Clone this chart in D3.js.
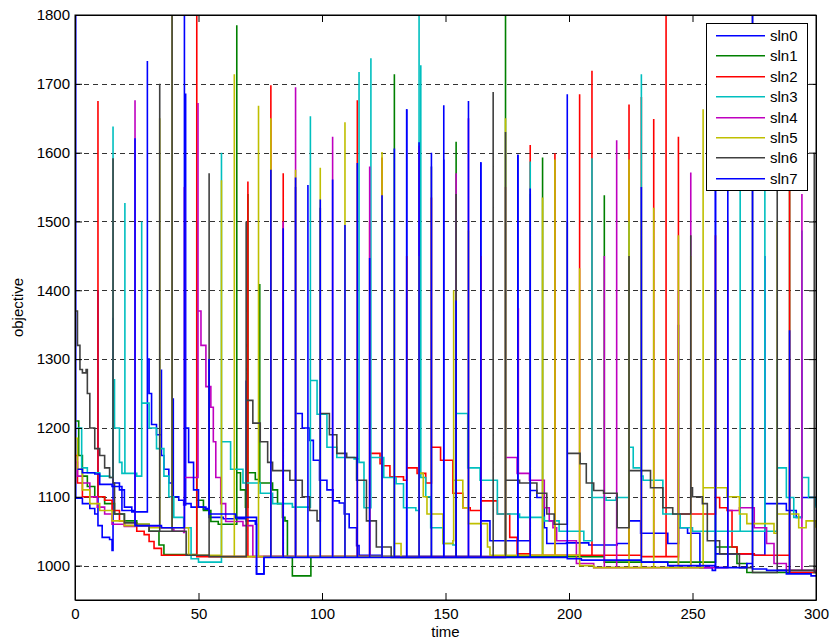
<!DOCTYPE html>
<html>
<head>
<meta charset="utf-8">
<script src="https://cdn.jsdelivr.net/npm/d3@7"></script>
<style>
body { margin: 0; background: #fff; }
text { font-family: Arial, "Liberation Sans", sans-serif; }
</style>
</head>
<body>
<div id="chart"></div>
<script>
// series names and colours
var names = ["sln0", "sln1", "sln2", "sln3", "sln4", "sln5", "sln6", "sln7"];
var colors = ["#0000ff", "#008000", "#ff0000", "#00bfbf", "#bf00bf", "#bfbf00", "#404040", "#0000ff"];

var xTicks = [0, 50, 100, 150, 200, 250, 300];
var yTicks = [1000, 1100, 1200, 1300, 1400, 1500, 1600, 1700, 1800];

// [time, objective]
var sln0 = [
  [0,1800],[0.3,1098],[3,1090],[6,1083],[8,1075],[9.3,1400],[9.3,1058],[11,1041],[14,1038],[15,1022],
  [15.4,1360],[15.4,1120],[18,1110],[20,1085],[23,1078],
  [29.3,1733],[29.3,1300],[30,1250],[31,1205],[33,1190],[35,1285],[35,1160],[36,1140],[38,1120],[39.8,1243],[39.8,1100],[42,1095],[44,1088],
  [44.8,1686],[44.8,1090],[47,1085],[52,1082],
  [54.3,1300],[54.3,1070],[60,1068],[66,1068],[69.3,1269],[69.3,1065],[73,1060],[73.5,988],[76,988],[76.5,1013],
  [84.3,1400],[84.3,1013],[89.3,1550],[89.3,1221],[92,1200],[95,1182],[96.5,1153],[99,1124],[102,1110],[104.5,1094],
  [107,1091],[109,1075],[111,1055],[114,1029],[115,1015],
  [124.3,1510],[124.3,1013],[134.3,1663],[134.3,1013],[149.3,1590],[149.3,1013],
  [164.3,1586],[164.3,1065],[168,1036],[176,1036],[179.3,1597],[179.3,1036],[184.3,1540],[184.3,1109],[187,1099],
  [190,1055],[191,1032],[199,1033],[208,1030],[219.5,1032],
  [224.3,1400],[224.3,1065],[229,1047],[233,1047],[240,1032],[244.3,1350],[244.3,1055],[248,1047],[253,997],[258,993],
  [259.3,1550],[259.3,1017],[264,1017],[275,1015],[279.3,1450],[279.3,1090],[285,1090],[288,1080],[292,1070],
  [294.3,1300],[294.3,1099],[300,1087]
];
var sln1 = [
  [0.5,1210],[1.5,1160],[3,1130],[5,1115],[8,1100],[12,1090],[16,1075],[20,1065],[25,1060],[30,1050],[34,1030],[36,1016],
  [49.3,1500],[49.3,1095],[52,1080],[55,1064],[58,1060],[64,1060],
  [65.5,1785],[65.5,1135],[67,1110],[69,1085],
  [70,1540],[70,1135],[73,1125],[74.8,1409],[74.8,1120],[77,1120],[80,1110],[82,1090],[84,1070],[85,1065],[86,1012],[88,985],[95,985],
  [95.5,1013],[129.3,1714],[129.3,1013],[154.3,1616],[154.3,1013],[174.3,1800],[174.3,1013],[189.3,1593],[189.3,1013],
  [214.3,1538],[214.3,1005],[258,1005],
  [259.3,1400],[259.3,1027],[264,1027],[268,1003],[272,990],[289.3,1560],[289.3,990],[300,990]
];
var sln2 = [
  [0,1160],[1,1120],[3,1100],[9.3,1675],[9.3,1100],[12,1095],[15,1080],[18,1065],[20,1058],[25,1050],[28,1045],[30,1035],[32,1025],[35,1015],
  [49.3,1800],[49.3,1013],[70,1558],[70,1013],[79.3,1698],[79.3,1013],[84.3,1570],[84.3,1013],[114.3,1676],[114.3,1013],
  [119.3,1500],[119.3,1163],[123.5,1148],[124.3,1593],[124.3,1145],[127.5,1129],[133,1124],
  [134.3,1450],[134.3,1142],[138.5,1134],[142,1120],
  [144.3,1535],[144.3,1172],[148,1153],[153,1105],[157,1084],[160,1080],
  [164.3,1450],[164.3,1094],[171,1075],[176,1041],[179,1017],
  [184.3,1611],[184.3,1015],[194.3,1599],[194.3,1015],[204.3,1685],[204.3,1015],[209.3,1719],[209.3,1015],
  [224.3,1670],[224.3,1015],[229.3,1681],[229.3,1013],[234.3,1649],[234.3,1013],[239.3,1800],[239.3,1013],
  [244.3,1623],[244.3,1075],[253,1075],[259.3,1480],[259.3,1099],[261,1084],[264,1080],[266,1027],[268,1017],[275,1015],
  [289.3,1560],[289.3,990],[300,990]
];
var sln3 = [
  [1,1200],[2.7,1142],[5,1135],[10,1130],[14,1128],[15.4,1638],[15.4,1270],[16,1200],[18,1150],[19,1134],
  [20.2,1527],[20.2,1134],[25,1130],
  [27,1500],[27,1236],[30,1200],[33,1170],[36,1130],[38,1100],[40,1070],[44,1055],[47,1010],[50,1005],
  [59.3,1600],[59.3,1180],[63,1140],[68,1120],[75,1105],[80,1090],[88,1085],
  [95.3,1653],[95.3,1269],[98,1220],[102,1172],[106,1157],[113,1155],[115,1717],[115,1150],[117,1084],[119,1084],
  [119.8,1737],[119.8,1157],[125,1128],[130,1119],[133,1084],[138,1080],
  [139.3,1800],[139.3,1128],[140,1727],[140,1128],[142,1100],[144,1055],[149,1032],[153,1030],
  [154.3,1510],[154.3,1221],[159,1142],[164,1124],[171,1075],[180,1070],
  [184.3,1587],[184.3,1070],[190,1065],[196,1050],[204,1050],[206,1036],
  [209.3,1592],[209.3,1099],[215,1095],[219,1099],
  [224.3,1500],[224.3,1172],[226,1142],[229.3,1714],[229.3,1130],[230,1124],[235,1124],[238,1075],[245,1055],[250,1050],[256,1050],
  [269.3,1560],[269.3,1050],[279.3,1560],[279.3,1050],[284.3,1300],[284.3,1142],[288,1099],[291,1070],
  [294.3,1487],[294.3,1128],[297,1099],[300,1084]
];
var sln4 = [
  [0,1150],[1,1130],[3,1120],[6,1100],[9,1085],[12,1075],[15,1060],[20,1057],[24.3,1676],[24.3,1058],[30,1056],[35,1055],[40,1050],[44,1048],
  [44.3,1550],[44.3,1128],[49,1128],[49.8,1672],[49.8,1370],[51,1320],[53,1260],[55,1230],[56,1180],[57,1128],[59,1090],[61,1064],[68,1058],[72,1013],
  [84.3,1500],[84.3,1013],[89.3,1695],[89.3,1013],[104.3,1623],[104.3,1013],[119.3,1580],[119.3,1013],
  [139.3,1610],[139.3,1013],[154.3,1570],[154.3,1013],[159.3,1650],[159.3,1013],[164.3,1439],[164.3,1013],
  [174.3,1550],[174.3,1157],[179,1134],[179.5,1374],[179.5,1134],[184,1124],[190,1084],[192,1065],[193.5,1055],[195,1036],[203,1003],[210,997],
  [214.3,1450],[214.3,997],[219.3,1618],[219.3,997],[244.3,1400],[244.3,997],[249.3,1571],[249.3,997],
  [264.3,1500],[264.3,1080],[269,1084],[275,1055],[280,1032],[283,1003],[288,993],[294.3,1540],[294.3,993],[300,990]
];
var sln5 = [
  [0,1185],[1,1140],[3,1110],[6,1090],[10,1080],[15,1065],[20,1058],[25,1060],[30,1055],[34.3,1650],[34.3,1055],[39.3,1800],[39.3,1055],[45,1055],[46,1015],
  [59.3,1560],[59.3,1013],[64.5,1714],[64.5,1013],[74.3,1668],[74.3,1013],[79.3,1650],[79.3,1013],[89.3,1575],[89.3,1013],
  [99.3,1578],[99.3,1013],[109.3,1644],[109.3,1013],
  [124.3,1601],[124.3,1013],[129.3,1400],[129.3,1032],[132,1012],
  [139.3,1450],[139.3,1134],[141,1100],[142.5,1075],[149,1032],[153,1036],
  [153.3,1400],[153.3,1124],[157,1084],[159.3,1487],[159.3,1061],[167,1027],[168,1015],
  [174.3,1650],[174.3,1015],[189.3,1535],[189.3,1015],[194.3,1590],[194.3,1015],[204.3,1432],[204.3,1000],[210,997],
  [224.3,1590],[224.3,997],[229.3,1500],[229.3,997],[234.3,1520],[234.3,997],[244.3,1480],[244.3,997],[249.3,1450],[249.3,997],
  [254.3,1663],[254.3,1113],[260,1113],[264,1100],[269,1075],[272,1061],[277,1061],[283,1047],
  [284.3,1500],[284.3,1075],[287,1075],[293,1055],[296,1065],[300,1055]
];
var sln6 = [
  [0,1370],[1,1320],[2,1285],[3,1280],[4.5,1285],[5,1250],[6,1200],[8,1170],[10,1160],[12,1142],[14,1128],
  [15.4,1592],[15.4,1120],[16,1075],[20,1062],[25,1058],[30,1050],[34.3,1700],[34.3,1050],[39.3,1800],[39.3,1050],[44,1050],[45,1015],
  [54.3,1570],[54.3,1013],[69.3,1500],[69.3,1240],[72,1207],[75,1180],[78,1150],[80,1138],[87,1124],[92,1100],[95,1080],[98,1065],
  [99.3,1520],[99.3,1221],[103,1190],[106,1163],[110,1157],[114,1124],[118,1065],[122,1027],[128,1012],
  [144.3,1580],[144.3,1012],[154.3,1540],[154.3,1012],[169.3,1688],[169.3,1012],
  [174.3,1630],[174.3,1124],[180,1120],[187,1105],[191,1075],[194,1060],
  [199.3,1500],[199.3,1163],[204.5,1148],[207,1120],[210,1109],[214,1105],[219.5,1055],
  [224.3,1450],[224.3,1138],[233,1113],[238,1084],[242,1075],
  [249.3,1480],[249.3,1113],[250,1100],[254,1090],[256,1036],[261,1017],[269,997],
  [274.3,1800],[274.3,990],[284.3,1560],[284.3,993],[299.3,1600],[299.3,990],[300,990]
];
var sln7 = [
  [1,1140],[3,1135],[8,1133],[10,1118],[15,1115],[19,1080],[24.3,1621],[24.3,1058],[35,1055],
  [44.3,1800],[44.3,1200],[46,1150],[48,1110],[50,1085],[53,1083],[54.3,1300],[54.3,1075],[60,1075],[65,1070],[73,1070],
  [73.5,988],[76,988],[76.5,1012],
  [79.3,1575],[79.3,1012],[84.3,1490],[84.3,1012],[89.3,1564],[89.3,1012],[94.3,1553],[94.3,1012],[99.3,1532],[99.3,1012],
  [104.3,1561],[104.3,1012],[109.3,1495],[109.3,1012],[114.3,1585],[114.3,1012],[119.3,1447],[119.3,1012],
  [124.3,1538],[124.3,1012],[129.3,1606],[129.3,1012],[134.3,1663],[134.3,1012],[139.3,1615],[139.3,1012],
  [144.3,1600],[144.3,1012],[149.3,1669],[149.3,1012],[154.3,1385],[154.3,1012],[159.3,1675],[159.3,1012],
  [164.3,1586],[164.3,1012],[179.3,1597],[179.3,1012],[184.3,1548],[184.3,1012],[199.3,1685],[199.3,1010],
  [205,1008],[229.3,1550],[229.3,1005],[235,1005],[240,1000],[259.3,1555],[259.3,997],[264.3,1550],[264.3,997],
  [272,1003],[274.3,1800],[274.3,995],[280,993],[288,988],[289.3,1342],[289.3,988],[298,985],[300,985]
];
var allSeries = [sln0, sln1, sln2, sln3, sln4, sln5, sln6, sln7];

var w = 831;
var h = 643;
var padL = 75, padR = 816, padT = 15, padB = 600;

var svg = d3.select("#chart")
            .append("svg")
            .attr("width", w)
            .attr("height", h);

var x = d3.scaleLinear().domain([0, 300]).range([padL, padR]);
var y = d3.scaleLinear().domain([950, 1800]).range([padB, padT]);

// dashed horizontal grid
svg.selectAll("line.grid")
   .data(yTicks.slice(0, -1))
   .enter()
   .append("line")
   .attr("class", "grid")
   .attr("x1", padL).attr("x2", padR)
   .attr("y1", function(d) { return Math.round(y(d)) + 0.5; })
   .attr("y2", function(d) { return Math.round(y(d)) + 0.5; })
   .attr("stroke", "#333")
   .attr("stroke-width", 1)
   .attr("stroke-dasharray", "5,4");

svg.append("clipPath").attr("id", "clip")
   .append("rect")
   .attr("x", padL).attr("y", padT)
   .attr("width", padR - padL).attr("height", padB - padT);

var line = d3.line()
             .x(function(d) { return x(d[0]); })
             .y(function(d) { return y(d[1]); })
             .curve(d3.curveStepAfter);

svg.append("g").attr("clip-path", "url(#clip)")
   .selectAll("path")
   .data(allSeries)
   .enter()
   .append("path")
   .attr("d", line)
   .attr("fill", "none")
   .attr("stroke", function(d, i) { return colors[i]; })
   .attr("stroke-width", 1.6);

// axes, ticks inside like matlab
var fmt = d3.format("d");
svg.append("g")
   .attr("transform", "translate(0," + padB + ")")
   .call(d3.axisBottom(x).tickValues(xTicks).tickFormat(fmt).tickSizeInner(-7).tickSizeOuter(0).tickPadding(8));
svg.append("g")
   .attr("transform", "translate(0," + padT + ")")
   .call(d3.axisTop(x).tickValues(xTicks).tickFormat("").tickSizeInner(-7).tickSizeOuter(0));
svg.append("g")
   .attr("transform", "translate(" + padL + ",0)")
   .call(d3.axisLeft(y).tickValues(yTicks).tickFormat(fmt).tickSizeInner(-7).tickSizeOuter(0).tickPadding(5));
svg.append("g")
   .attr("transform", "translate(" + padR + ",0)")
   .call(d3.axisRight(y).tickValues(yTicks).tickFormat("").tickSizeInner(-7).tickSizeOuter(0));

svg.selectAll(".tick text").attr("font-size", 15).attr("fill", "#000")
   .attr("font-family", "Arial, 'Liberation Sans', sans-serif");
svg.selectAll(".domain").attr("stroke", "#000");
svg.selectAll(".tick line").attr("stroke", "#000");

svg.append("rect")
   .attr("x", padL).attr("y", padT)
   .attr("width", padR - padL).attr("height", padB - padT)
   .attr("fill", "none").attr("stroke", "#000").attr("stroke-width", 1);

svg.append("text")
   .attr("x", (padL + padR) / 2).attr("y", 637)
   .attr("text-anchor", "middle")
   .attr("font-size", 15)
   .text("time");

svg.append("text")
   .attr("transform", "translate(23," + (padT + padB) / 2 + ") rotate(-90)")
   .attr("text-anchor", "middle")
   .attr("font-size", 15)
   .text("objective");

// legend
var lg = svg.append("g");
lg.append("rect")
  .attr("x", 706.5).attr("y", 23.5)
  .attr("width", 101).attr("height", 167)
  .attr("fill", "#fff").attr("stroke", "#000");
var items = lg.selectAll("g.item")
  .data(names)
  .enter()
  .append("g")
  .attr("transform", function(d, i) { return "translate(0," + Math.round(35 + i * 20.4) + ")"; });
items.append("rect")
  .attr("x", 716).attr("y", 0)
  .attr("width", 49).attr("height", 1.5)
  .attr("fill", function(d, i) { return colors[i]; });
items.append("text")
  .attr("x", 770).attr("y", 6)
  .attr("font-size", 15)
  .text(function(d) { return d; });
</script>
</body>
</html>
